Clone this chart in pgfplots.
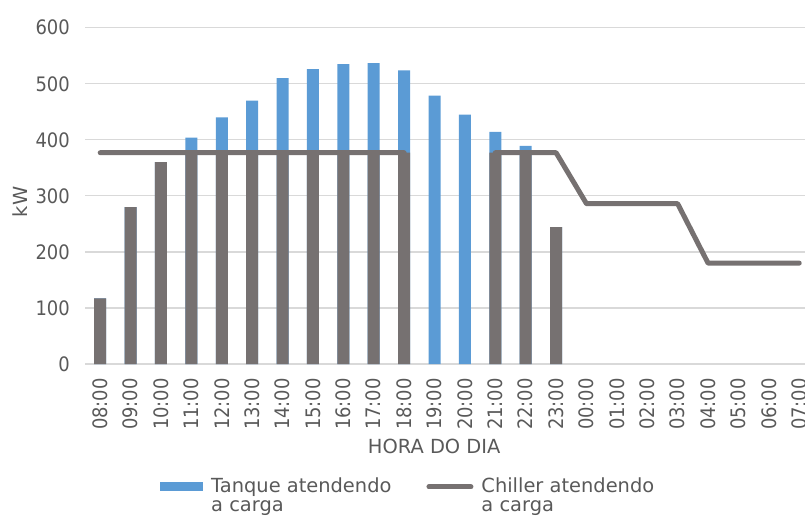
\documentclass[border=0pt]{standalone}
\usepackage{pgfplots}
\pgfplotsset{compat=1.18}
\usepackage{fontspec}
\setmainfont{DejaVu Sans}
\newfontfamily\tickfont{DejaVu Sans Condensed}

\definecolor{tankblue}{HTML}{5B9BD5}
\definecolor{chillgray}{HTML}{767171}
\definecolor{labelgray}{HTML}{595959}
\definecolor{gridgray}{HTML}{D9D9D9}

\begin{document}
\begin{tikzpicture}
\begin{axis}[
  at={(85bp,-364bp)}, anchor=south west,
  scale only axis, width=720bp, height=336.3bp,
  xmin=-0.5, xmax=23.19, ymin=0, ymax=600,
  ytick={0,100,...,600},
  xtick={0,...,23},
  xticklabels={08:00,09:00,10:00,11:00,12:00,13:00,14:00,15:00,16:00,17:00,18:00,19:00,20:00,21:00,22:00,23:00,00:00,01:00,02:00,03:00,04:00,05:00,06:00,07:00},
  axis x line*=bottom, axis y line*=left,
  axis line style={-},
  y axis line style={draw=none},
  x axis line style={draw=gridgray, line width=1.2bp},
  ymajorgrids, grid style={draw=gridgray, line width=1.2bp},
  major tick length=0pt,
  /pgf/number format/assume math mode=true,
  tick label style={font=\tickfont\fontsize{20}{20}\selectfont, text=labelgray},
  yticklabel style={anchor=east, inner sep=0pt},
  yticklabel shift=15bp,
  xticklabel style={rotate=90, anchor=east, inner sep=0pt},
  xticklabel shift=14bp,
  label style={font=\fontsize{19.5}{19.5}\selectfont, text=labelgray},
  ylabel={kW},
  ylabel style={at={(axis description cs:-0.0903,0.482)}, anchor=center},
  xlabel={HORA DO DIA},
  xlabel style={at={(axis description cs:0.485,-0.244)}, anchor=center},
  legend columns=2,
  legend cell align=left,
  legend style={at={(axis description cs:0.1042,-0.339)}, anchor=north west,
    draw=none, fill=none, inner sep=0pt,
    font=\fontsize{19.5}{19}\selectfont, text=labelgray,
    nodes={inner sep=0pt},
    cells={anchor=base west, align=left},
    /tikz/every odd column/.append style={column sep=8bp},
    /tikz/every even column/.append style={column sep=35bp}},
]
% total load met by the tank (blue)
\addplot[ybar, bar width=12bp, bar shift=0pt, fill=tankblue, draw=none,
  legend image code/.code={\fill[tankblue] (0bp,20.5bp) rectangle (43bp,29.5bp);}]
  coordinates {(0,117) (1,280) (2,360) (3,404) (4,440) (5,470) (6,510) (7,526)
    (8,535) (9,537) (10,524) (11,479) (12,445) (13,414) (14,389) (15,244)};
\addlegendentry{Tanque atendendo\\a carga}
% part of the load met by the chiller (gray)
\addplot[ybar, bar width=12bp, bar shift=0pt, fill=chillgray, draw=none, forget plot]
  coordinates {(0,117) (1,280) (2,360) (3,377) (4,377) (5,377) (6,377) (7,377)
    (8,377) (9,377) (10,377) (13,377) (14,377) (15,244)};
% chiller capacity profile
\addplot[chillgray, line width=5bp, line cap=round, line join=round, mark=none,
  unbounded coords=jump,
  legend image code/.code={\draw[chillgray, line width=5bp, line cap=round] (0bp,25bp) -- (42bp,25bp);}]
  coordinates {(0,377) (1,377) (2,377) (3,377) (4,377) (5,377) (6,377) (7,377)
    (8,377) (9,377) (10,377) (11,nan) (12,nan) (13,377) (14,377) (15,377)
    (16,286) (17,286) (18,286) (19,286) (20,180) (21,180) (22,180) (23,180)};
\addlegendentry{Chiller atendendo\\a carga}
\end{axis}
\pgfresetboundingbox
\useasboundingbox (0,0) rectangle (805bp,-516bp);
\end{tikzpicture}
\end{document}
